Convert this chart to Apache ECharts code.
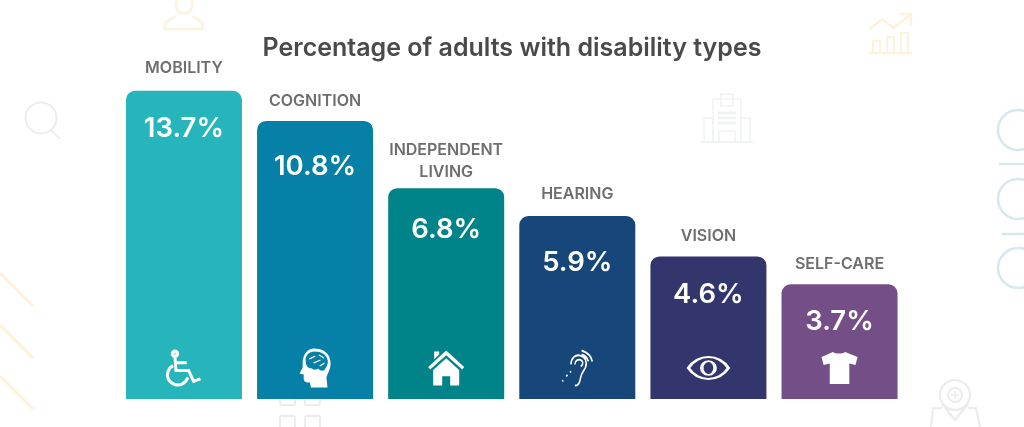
<!DOCTYPE html>
<html>
<head>
<meta charset="utf-8">
<style>
  html, body { margin: 0; padding: 0; background: #fff; }
  #chart { width: 1024px; height: 427px; }
</style>
</head>
<body>
<div id="chart"></div>
<script src="https://cdn.jsdelivr.net/npm/echarts@6/dist/echarts.min.js"></script>
<script>
const categories = ['MOBILITY', 'COGNITION', 'INDEPENDENT\nLIVING', 'HEARING', 'VISION', 'SELF-CARE']
const percentLabels = ['13.7%', '10.8%', '6.8%', '5.9%', '4.6%', '3.7%']
// bar lengths as drawn in the picture: the two tallest bars are not to scale with their labels
const barLengths = [9.94, 8.97, 6.8, 5.9, 4.6, 3.7]
const iconLevels = [1.0, 1.0, 1.0, 1.0, 1.0, 1.0]

const barColors = ['#25b5bb', '#0780a7', '#008489', '#17467a', '#32366d', '#744e87']
const nameGaps = [12, 9, 5, 11, 9, 9]
const valueDrops = [24, 32, 28, 33, 24, 23]

const FONT = 'Inter, "Noto Sans", sans-serif'
const CREAM = '#fdf2dc'
const GREY = '#ececec'
const PALE = '#f1f3f3'
const BLUE = '#d5e8ec'

const icons = [
  { // wheelchair
    size: [33, 34], stroke: 3,
    path: 'M8 0a2.8 2.8 0 1 0 .01 0ZM8 2.2a.8 .8 0 1 0 .01 0ZM8 6L9 20L22 20L27 31L34 28.5M9 12L20 12M6 15A10.5 10.5 0 1 0 21 27'
  },
  { // head with brain
    size: [31, 39], stroke: 0,
    path: 'M15 0C25 0 31 6 31 15C31 21 28 25 27 29L28 39L12 39L11 34C8 34 5 34 5 30L5 26L1 25L4 19L4 14C4 6 9 0 15 0Z' +
      'M16 3C10 3 6 7 7 13C7 17 9 20 13 20C15 22 18 21 19 20C21 23 25 23 26 20C28 17 29 14 28 11C27 6 22 3 16 3Z' +
      'M10 10L16 7L16.6 8L11 11ZM14 14L21 11L21.5 12L15 15ZM20 17L25 14L25.5 15L21 18ZM20 6L25 9L24.5 10L19.5 7Z'
  },
  { // house
    size: [36, 35], stroke: 0,
    path: 'M0 17L18 1L36 17L34 19.5L18 5.5L2 19.5ZM6 2H11V5L6 9.5ZM5 20L18 8.5L31 20V35H22V26H14V35H5Z'
  },
  { // ear
    size: [30, 35], stroke: 1.7,
    path: 'M9 14C9 7 14 4 18 5C24 6 26 12 24 17C22 21 20 22 19 27C18 33 16 36 13 35M13 14C13 10 17 8 20 10C22 12 21 15 19 16' +
      'M20 0C26 2 30 6 31 11M20 4C24 5 26 8 27 11M0 31L1 30M4 26L5.5 24.5M8 22L9 21'
  },
  { // eye
    size: [40, 22], stroke: 2.6,
    path: 'M0 12C10 -3 32 -3 42 12C32 27 10 27 0 12ZM21 5a7 7 0 1 0 .01 0Z'
  },
  { // t-shirt
    size: [36, 32], stroke: 0,
    path: 'M11 0C14 2 20 2 23 0L35 5L33 13L27 11.5L27 32L8 32L8 11.5L2 13L0 5Z'
  }
]

// faint background decoration
const line = (x1, y1, x2, y2, stroke, lineWidth) => ({
  type: 'line', z: -1, shape: { x1, y1, x2, y2 }, style: { stroke, lineWidth }
})
const ring = (cx, cy, r, stroke, lineWidth) => ({
  type: 'circle', z: -1, shape: { cx, cy, r }, style: { fill: 'none', stroke, lineWidth }
})
const box = (x, y, width, height, stroke, lineWidth, r) => ({
  type: 'rect', z: -1, shape: { x, y, width, height, r: r || 0 }, style: { fill: 'none', stroke, lineWidth }
})
const trail = (points, stroke, lineWidth) => ({
  type: 'polyline', z: -1, shape: { points }, style: { fill: 'none', stroke, lineWidth }
})

const decoration = [
  // person
  ring(184, 5, 8.5, CREAM, 2.5),
  trail([[164, 29], [166, 22], [176, 16]], CREAM, 2.5),
  trail([[192, 16], [202, 22], [203, 29]], CREAM, 2.5),
  line(164, 29, 203, 29, CREAM, 2.5),
  // magnifier
  ring(41, 118, 15.5, GREY, 1.8),
  line(51, 130, 60, 139, GREY, 2),
  // rising chart
  trail([[870, 29], [882, 19], [893, 28], [910, 15]], CREAM, 2.5),
  trail([[900, 14], [911, 14], [911, 25]], CREAM, 2.5),
  box(873, 41, 7, 12, CREAM, 2),
  box(887, 37, 7, 16, CREAM, 2),
  box(901, 33, 7, 20, CREAM, 2),
  line(869, 53, 912, 53, CREAM, 2.5),
  // hospital
  box(713, 99, 28, 43, PALE, 1.5),
  box(704, 118, 9, 24, PALE, 1.5),
  box(741, 118, 9, 24, PALE, 1.5),
  box(721, 94, 12, 12, PALE, 1.5),
  box(719, 131, 16, 11, PALE, 1.5),
  line(701, 142, 753, 142, PALE, 1.5),
  line(718, 113, 736, 113, PALE, 3),
  line(718, 118, 736, 118, PALE, 3),
  line(718, 123, 736, 123, PALE, 3),
  // circles and dashes on the right edge
  ring(1018, 130, 20, BLUE, 2.5),
  ring(1018, 199, 20, BLUE, 2.5),
  ring(1018, 268, 20, BLUE, 2.5),
  line(999, 164, 1024, 164, BLUE, 2.5),
  line(1002, 234, 1024, 234, BLUE, 2.5),
  // diagonals on the left edge
  line(0, 273, 33, 306, '#fff0d6', 3),
  line(0, 325, 33, 358, '#fff0d6', 3),
  line(0, 376, 33, 409, '#fff0d6', 3),
  // squares under the second bar
  box(280, 388, 15, 17, GREY, 2, 2),
  box(305, 388, 15, 17, GREY, 2, 2),
  box(280, 416, 15, 17, GREY, 2, 2),
  box(305, 416, 15, 17, GREY, 2, 2),
  // map pin
  ring(955, 395, 15, GREY, 2.2),
  ring(955, 395, 7, GREY, 2),
  line(951, 395, 959, 395, GREY, 1.6),
  line(955, 391, 955, 399, GREY, 1.6),
  trail([[942, 404], [955, 420], [968, 404]], GREY, 2.2),
  trail([[942, 408], [933, 408], [931, 427]], GREY, 2.2),
  trail([[968, 408], [976, 408], [980, 427]], GREY, 2.2)
]

const chart = echarts.init(document.getElementById('chart'))
chart.setOption({
  animation: false,
  backgroundColor: '#fff',
  title: {
    text: 'Percentage of adults with disability types',
    left: 'center',
    top: 31,
    textStyle: { color: '#4a4a4a', fontFamily: FONT, fontSize: 25, fontWeight: 600 }
  },
  graphic: decoration,
  grid: { left: 118.4, right: 118.9, top: 58, bottom: 28 },
  xAxis: { type: 'category', data: categories, show: false },
  yAxis: { type: 'value', min: 0, max: 11, show: false },
  series: [
    {
      type: 'bar',
      barWidth: 116,
      barGap: '-100%',
      data: barLengths.map((value, i) => ({
        value,
        itemStyle: { color: barColors[i], borderRadius: [9, 9, 0, 0] },
        label: { formatter: percentLabels[i], distance: valueDrops[i] }
      })),
      label: {
        show: true,
        position: 'insideTop',
        color: '#fff',
        fontFamily: FONT,
        fontSize: 27.5,
        fontWeight: 600
      }
    },
    {
      // invisible twin that only carries the names above the bars
      type: 'bar',
      barWidth: 116,
      barGap: '-100%',
      silent: true,
      itemStyle: { color: 'transparent' },
      data: barLengths.map((value, i) => ({
        value,
        label: { distance: nameGaps[i] }
      })),
      label: {
        show: true,
        position: 'top',
        formatter: (p) => categories[p.dataIndex],
        color: '#6e6e6e',
        fontFamily: FONT,
        fontSize: 16,
        fontWeight: 600,
        lineHeight: 22
      }
    },
    {
      type: 'scatter',
      z: 5,
      silent: true,
      data: iconLevels.map((value, i) => ({
        value: [i, value],
        symbol: 'path://' + icons[i].path,
        symbolSize: icons[i].size,
        itemStyle: icons[i].stroke
          ? { color: 'transparent', borderColor: '#fff', borderWidth: icons[i].stroke, opacity: 1 }
          : { color: '#fff', borderWidth: 0, opacity: 1 }
      }))
    }
  ]
})
</script>
</body>
</html>
